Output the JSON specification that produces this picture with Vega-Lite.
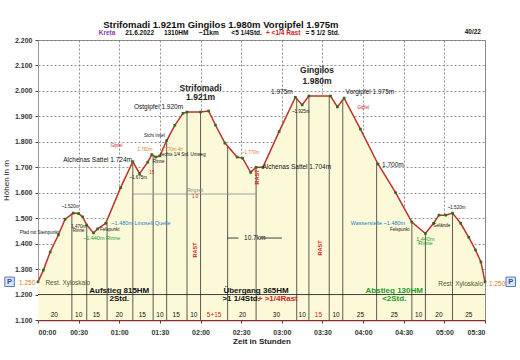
{
  "$schema": "https://vega.github.io/schema/vega-lite/v6.json",
  "width": 447,
  "height": 280,
  "autosize": "none",
  "padding": {"left": 38, "top": 40, "right": 35, "bottom": 40},
  "background": "white",
  "config": {
    "font": "Liberation Sans",
    "view": {"stroke": "#999", "strokeWidth": 1},
    "text": {"font": "Liberation Sans"},
    "axisY": {"labelOverlap": false, "tickCount": 12},
    "axisX": {"labelOverlap": false}
  },
  "datasets": {
    "profile": [
      {"t": 0, "elev": 1250}, {"t": 4, "elev": 1296}, {"t": 9, "elev": 1367}, {"t": 15, "elev": 1434},
      {"t": 20, "elev": 1496}, {"t": 26, "elev": 1520}, {"t": 30, "elev": 1518}, {"t": 33, "elev": 1505},
      {"t": 36, "elev": 1473}, {"t": 41, "elev": 1442}, {"t": 44, "elev": 1458}, {"t": 50, "elev": 1480},
      {"t": 61, "elev": 1620}, {"t": 70, "elev": 1722}, {"t": 75, "elev": 1675}, {"t": 81, "elev": 1720},
      {"t": 84, "elev": 1750}, {"t": 87, "elev": 1740}, {"t": 90, "elev": 1745}, {"t": 95, "elev": 1805},
      {"t": 101, "elev": 1865}, {"t": 107, "elev": 1912}, {"t": 110, "elev": 1917}, {"t": 120, "elev": 1917},
      {"t": 126, "elev": 1921}, {"t": 131, "elev": 1866}, {"t": 138, "elev": 1795}, {"t": 147, "elev": 1740},
      {"t": 151, "elev": 1736}, {"t": 157, "elev": 1680}, {"t": 161, "elev": 1700}, {"t": 166, "elev": 1700},
      {"t": 178, "elev": 1840}, {"t": 190, "elev": 1975}, {"t": 195, "elev": 1945}, {"t": 200, "elev": 1980},
      {"t": 216, "elev": 1980}, {"t": 221, "elev": 1937}, {"t": 226, "elev": 1972}, {"t": 238, "elev": 1850},
      {"t": 251, "elev": 1713}, {"t": 264, "elev": 1600}, {"t": 276, "elev": 1485}, {"t": 286, "elev": 1440},
      {"t": 292, "elev": 1480}, {"t": 296, "elev": 1512}, {"t": 301, "elev": 1512}, {"t": 306, "elev": 1520},
      {"t": 312, "elev": 1480}, {"t": 318, "elev": 1425}, {"t": 323, "elev": 1375}, {"t": 327, "elev": 1328},
      {"t": 330, "elev": 1250}
    ],
    "drops": [
      {"t": 25, "elev": 1520}, {"t": 36, "elev": 1473}, {"t": 51, "elev": 1485}, {"t": 70, "elev": 1722},
      {"t": 85, "elev": 1748}, {"t": 95, "elev": 1805}, {"t": 110, "elev": 1917}, {"t": 120, "elev": 1917},
      {"t": 140, "elev": 1785}, {"t": 161, "elev": 1700}, {"t": 191, "elev": 1972}, {"t": 200, "elev": 1980},
      {"t": 215, "elev": 1980}, {"t": 225, "elev": 1968}, {"t": 250, "elev": 1720}, {"t": 276, "elev": 1485},
      {"t": 286, "elev": 1440}, {"t": 306, "elev": 1520}
    ],
    "segments": [
      {"t": 0, "t2": 330, "elev": 1200, "kind": "info"},
      {"t": 70, "t2": 161, "elev": 1595, "kind": "note"},
      {"t": 140, "t2": 148, "elev": 1422, "kind": "info"},
      {"t": 164, "t2": 180, "elev": 1422, "kind": "info"}
    ],
    "titles": [
      {"t": 135, "elev": 2259, "text": "Strifomadi 1.921m Gingilos 1.980m Vorgipfel 1.975m"}
    ],
    "subtitle": [
      {"t": 51, "elev": 2228, "text": "Kreta", "kind": "region"},
      {"t": 75, "elev": 2228, "text": "21.6.2022", "kind": "info"},
      {"t": 102, "elev": 2228, "text": "1310HM", "kind": "info"},
      {"t": 126, "elev": 2228, "text": "~11km", "kind": "info"},
      {"t": 154, "elev": 2228, "text": "<5 1/4Std.", "kind": "info"},
      {"t": 181, "elev": 2228, "text": "+ <1/4 Rast", "kind": "rest"},
      {"t": 210, "elev": 2228, "text": "= 5 1/2 Std.", "kind": "info"},
      {"t": 321, "elev": 2231, "text": "40/22", "kind": "info"}
    ],
    "peaks": [
      {"t": 120, "elev": 2011, "text": "Strifomadi"},
      {"t": 120, "elev": 1975, "text": "1.921m"},
      {"t": 206, "elev": 2082, "text": "Gingilos"},
      {"t": 206, "elev": 2039, "text": "1.980m"}
    ],
    "sections": [
      {"t": 60, "elev": 1214, "text": "Aufstieg 815HM", "kind": "info"},
      {"t": 60, "elev": 1182, "text": "2Std.", "kind": "info"},
      {"t": 161, "elev": 1214, "text": "Übergang 365HM", "kind": "info"},
      {"t": 150, "elev": 1182, "text": ">1 1/4Std.", "kind": "info"},
      {"t": 177, "elev": 1182, "text": "+ >1/4Rast", "kind": "rest"},
      {"t": 263, "elev": 1214, "text": "Abstieg 130HM", "kind": "trail"},
      {"t": 263, "elev": 1182, "text": "<2Std.", "kind": "trail"}
    ],
    "small": [
      {"t": 89, "elev": 1937, "text": "Ostgipfel 1.920m", "kind": "info"},
      {"t": 44, "elev": 1728, "text": "Alchenas Sattel 1.724m", "kind": "info"},
      {"t": 191, "elev": 1700, "text": "Alchenas Sattel 1.704m", "kind": "info"},
      {"t": 180, "elev": 1996, "text": "1.975m", "kind": "info"},
      {"t": 245, "elev": 1996, "text": "Vorgipfel 1.975m", "kind": "info"},
      {"t": 262, "elev": 1710, "text": "1.700m", "kind": "info"},
      {"t": 22, "elev": 1247, "text": "Rest. Xyloskalo", "kind": "place"},
      {"t": 312, "elev": 1242, "text": "Rest. Xyloskalo", "kind": "place"},
      {"t": -8, "elev": 1247, "text": "1.250", "kind": "height"},
      {"t": 339, "elev": 1242, "text": "1.250", "kind": "height"},
      {"t": 160, "elev": 1422, "text": "10.7km", "kind": "info"}
    ],
    "mini": [
      {"t": 76, "elev": 1481, "text": "~1.480m Linoseli Quelle", "kind": "water"},
      {"t": 251, "elev": 1483, "text": "Wasserstelle ~1.480m", "kind": "water"},
      {"t": 47, "elev": 1423, "text": "~1.440m Rinne", "kind": "trail"},
      {"t": 286, "elev": 1420, "text": "1.440m", "kind": "trail"},
      {"t": 286, "elev": 1402, "text": "Rinne", "kind": "trail"}
    ],
    "tiny": [
      {"t": 24, "elev": 1543, "text": "~1.520m", "kind": "info"},
      {"t": 309, "elev": 1540, "text": "~1.520m", "kind": "info"},
      {"t": 1, "elev": 1442, "text": "Pfad mit Steinpunkt", "kind": "info"},
      {"t": 30, "elev": 1467, "text": "1.470m", "kind": "info"},
      {"t": 30, "elev": 1450, "text": "Rinne", "kind": "info"},
      {"t": 53, "elev": 1453, "text": "Felspunkt", "kind": "info"},
      {"t": 79, "elev": 1768, "text": "1.760m", "kind": "height"},
      {"t": 99, "elev": 1768, "text": "1.770m 4h", "kind": "height"},
      {"t": 157, "elev": 1755, "text": "~1.770m", "kind": "height"},
      {"t": 58, "elev": 1782, "text": "Gipfel", "kind": "rest"},
      {"t": 74, "elev": 1657, "text": "~1.675m", "kind": "info"},
      {"t": 84, "elev": 1677, "text": "15", "kind": "rest"},
      {"t": 89, "elev": 1722, "text": "Rinne", "kind": "info"},
      {"t": 107, "elev": 1747, "text": "rechts 1/4 Std. Umweg", "kind": "info"},
      {"t": 86, "elev": 1823, "text": "Sicht Insel", "kind": "info"},
      {"t": 194, "elev": 1917, "text": "~1.925m", "kind": "info"},
      {"t": 240, "elev": 1933, "text": "Gipfel", "kind": "rest"},
      {"t": 267, "elev": 1453, "text": "Felspunkt", "kind": "info"},
      {"t": 298, "elev": 1470, "text": "Gelände", "kind": "info"},
      {"t": 116, "elev": 1607, "text": "Ringzeit", "kind": "note"},
      {"t": 116, "elev": 1583, "text": "1.0", "kind": "rest"}
    ],
    "durations": [
      {"t": 12, "elev": 1120, "text": "20", "kind": "info"},
      {"t": 30, "elev": 1120, "text": "10", "kind": "info"},
      {"t": 43, "elev": 1120, "text": "15", "kind": "info"},
      {"t": 60, "elev": 1120, "text": "20", "kind": "info"},
      {"t": 77, "elev": 1120, "text": "15", "kind": "info"},
      {"t": 90, "elev": 1120, "text": "10", "kind": "info"},
      {"t": 102, "elev": 1120, "text": "15", "kind": "info"},
      {"t": 115, "elev": 1120, "text": "10", "kind": "info"},
      {"t": 130, "elev": 1120, "text": "5+15", "kind": "rest"},
      {"t": 151, "elev": 1120, "text": "20", "kind": "info"},
      {"t": 176, "elev": 1120, "text": "30", "kind": "info"},
      {"t": 195, "elev": 1120, "text": "10", "kind": "info"},
      {"t": 207, "elev": 1120, "text": "15", "kind": "rest"},
      {"t": 220, "elev": 1120, "text": "10", "kind": "info"},
      {"t": 238, "elev": 1120, "text": "25", "kind": "info"},
      {"t": 263, "elev": 1120, "text": "25", "kind": "info"},
      {"t": 281, "elev": 1120, "text": "10", "kind": "info"},
      {"t": 296, "elev": 1120, "text": "20", "kind": "info"},
      {"t": 318, "elev": 1120, "text": "25", "kind": "info"}
    ],
    "rast": [
      {"t": 116, "elev": 1375, "text": "RAST"},
      {"t": 162, "elev": 1662, "text": "RAST"},
      {"t": 208, "elev": 1383, "text": "RAST"}
    ],
    "parking": [
      {"t": -21, "elev": 1250, "text": "P"},
      {"t": 349, "elev": 1250, "text": "P"}
    ]
  },
  "layer": [
    {
      "data": {"name": "profile"},
      "mark": {"type": "area", "color": "#fcf9d9", "opacity": 1},
      "encoding": {
        "x": {
          "field": "t", "type": "quantitative",
          "scale": {"domain": [0, 330], "nice": false, "zero": false},
          "axis": {
            "values": [0, 30, 60, 90, 120, 150, 180, 210, 240, 270, 300, 330],
            "labelExpr": "(floor(datum.value/60) < 10 ? '0' : '') + floor(datum.value/60) + ':' + (datum.value % 60 < 10 ? '0' : '') + (datum.value % 60)",
            "labelOverlap": false,
            "title": "Zeit in Stunden",
            "grid": true, "gridDash": [2, 2], "gridColor": "#777", "gridWidth": 0.8,
            "domainColor": "#8b2a2a", "domainWidth": 1.5,
            "tickColor": "#444", "tickSize": 3,
            "labelFontSize": 7, "labelFontWeight": "bold", "labelColor": "#333", "labelPadding": 5,
            "titleFontSize": 8, "titleFontWeight": "bold", "titleColor": "#222", "titlePadding": 2
          }
        },
        "y": {
          "field": "elev", "type": "quantitative",
          "scale": {"domain": [1100, 2200], "nice": false, "zero": false},
          "axis": {
            "values": [1100, 1200, 1300, 1400, 1500, 1600, 1700, 1800, 1900, 2000, 2100, 2200],
            "labelExpr": "replace(format(datum.value, ','), ',', '.')",
            "labelOverlap": false,
            "tickCount": 12,
            "title": "Höhen in m",
            "grid": true, "gridDash": [2, 2], "gridColor": "#777", "gridWidth": 0.8,
            "domainColor": "#999", "tickColor": "#444", "tickSize": 3,
            "labelFontSize": 7, "labelFontWeight": "bold", "labelColor": "#333", "labelPadding": 3,
            "titleFontSize": 8, "titleFontWeight": "normal", "titleColor": "#222", "titlePadding": 4
          }
        },
        "y2": {"datum": 1100}
      }
    },
    {
      "data": {"name": "drops"},
      "mark": {"type": "rule", "color": "#333", "strokeWidth": 0.8},
      "encoding": {
        "x": {"field": "t", "type": "quantitative"},
        "y": {"field": "elev", "type": "quantitative"},
        "y2": {"datum": 1100}
      }
    },
    {
      "data": {"name": "segments"},
      "mark": {"type": "rule", "strokeWidth": 0.8},
      "encoding": {
        "x": {"field": "t", "type": "quantitative"},
        "x2": {"field": "t2"},
        "y": {"field": "elev", "type": "quantitative"},
        "color": {"field": "kind", "type": "nominal", "legend": null,
          "scale": {"domain": ["info", "rest", "water", "trail", "height", "region", "note", "place"],
                    "range": ["#111111", "#d42020", "#1f7fc4", "#1e9a2a", "#e07b1a", "#8a3aa8", "#8a8a8a", "#55552b"]}}
      }
    },
    {
      "data": {"name": "profile"},
      "mark": {"type": "line", "color": "#c0302a", "strokeWidth": 1.5},
      "encoding": {
        "x": {"field": "t", "type": "quantitative"},
        "y": {"field": "elev", "type": "quantitative"}
      }
    },
    {
      "data": {"name": "profile"},
      "mark": {"type": "point", "shape": "square", "filled": true, "size": 7, "color": "#2f6b22", "opacity": 1},
      "encoding": {
        "x": {"field": "t", "type": "quantitative"},
        "y": {"field": "elev", "type": "quantitative"}
      }
    },
    {
      "data": {"name": "titles"},
      "mark": {"type": "text", "fontSize": 9.5, "fontWeight": "bold", "color": "#111", "baseline": "middle"},
      "encoding": {
        "x": {"field": "t", "type": "quantitative"},
        "y": {"field": "elev", "type": "quantitative"},
        "text": {"field": "text"}
      }
    },
    {
      "data": {"name": "subtitle"},
      "mark": {"type": "text", "fontSize": 6.5, "fontWeight": "bold", "baseline": "middle"},
      "encoding": {
        "x": {"field": "t", "type": "quantitative"},
        "y": {"field": "elev", "type": "quantitative"},
        "text": {"field": "text"},
        "color": {"field": "kind", "type": "nominal", "legend": null}
      }
    },
    {
      "data": {"name": "peaks"},
      "mark": {"type": "text", "fontSize": 8.5, "fontWeight": "bold", "color": "#222", "baseline": "middle"},
      "encoding": {
        "x": {"field": "t", "type": "quantitative"},
        "y": {"field": "elev", "type": "quantitative"},
        "text": {"field": "text"}
      }
    },
    {
      "data": {"name": "sections"},
      "mark": {"type": "text", "fontSize": 8, "fontWeight": "bold", "baseline": "middle"},
      "encoding": {
        "x": {"field": "t", "type": "quantitative"},
        "y": {"field": "elev", "type": "quantitative"},
        "text": {"field": "text"},
        "color": {"field": "kind", "type": "nominal", "legend": null}
      }
    },
    {
      "data": {"name": "small"},
      "mark": {"type": "text", "fontSize": 6.5, "baseline": "middle"},
      "encoding": {
        "x": {"field": "t", "type": "quantitative"},
        "y": {"field": "elev", "type": "quantitative"},
        "text": {"field": "text"},
        "color": {"field": "kind", "type": "nominal", "legend": null}
      }
    },
    {
      "data": {"name": "mini"},
      "mark": {"type": "text", "fontSize": 5.5, "baseline": "middle"},
      "encoding": {
        "x": {"field": "t", "type": "quantitative"},
        "y": {"field": "elev", "type": "quantitative"},
        "text": {"field": "text"},
        "color": {"field": "kind", "type": "nominal", "legend": null}
      }
    },
    {
      "data": {"name": "tiny"},
      "mark": {"type": "text", "fontSize": 4.5, "baseline": "middle"},
      "encoding": {
        "x": {"field": "t", "type": "quantitative"},
        "y": {"field": "elev", "type": "quantitative"},
        "text": {"field": "text"},
        "color": {"field": "kind", "type": "nominal", "legend": null}
      }
    },
    {
      "data": {"name": "durations"},
      "mark": {"type": "text", "fontSize": 6.5, "baseline": "middle"},
      "encoding": {
        "x": {"field": "t", "type": "quantitative"},
        "y": {"field": "elev", "type": "quantitative"},
        "text": {"field": "text"},
        "color": {"field": "kind", "type": "nominal", "legend": null}
      }
    },
    {
      "data": {"name": "rast"},
      "mark": {"type": "text", "fontSize": 5.5, "fontWeight": "bold", "angle": 270, "color": "#d42020", "baseline": "middle"},
      "encoding": {
        "x": {"field": "t", "type": "quantitative"},
        "y": {"field": "elev", "type": "quantitative"},
        "text": {"field": "text"}
      }
    },
    {
      "data": {"name": "parking"},
      "mark": {"type": "point", "shape": "square", "filled": true, "size": 90, "color": "#dbe6f7", "stroke": "#5577bb", "strokeWidth": 1, "opacity": 1},
      "encoding": {
        "x": {"field": "t", "type": "quantitative"},
        "y": {"field": "elev", "type": "quantitative"}
      }
    },
    {
      "data": {"name": "parking"},
      "mark": {"type": "text", "fontSize": 7.5, "fontWeight": "bold", "color": "#2a4d9a", "baseline": "middle"},
      "encoding": {
        "x": {"field": "t", "type": "quantitative"},
        "y": {"field": "elev", "type": "quantitative"},
        "text": {"field": "text"}
      }
    }
  ]
}
